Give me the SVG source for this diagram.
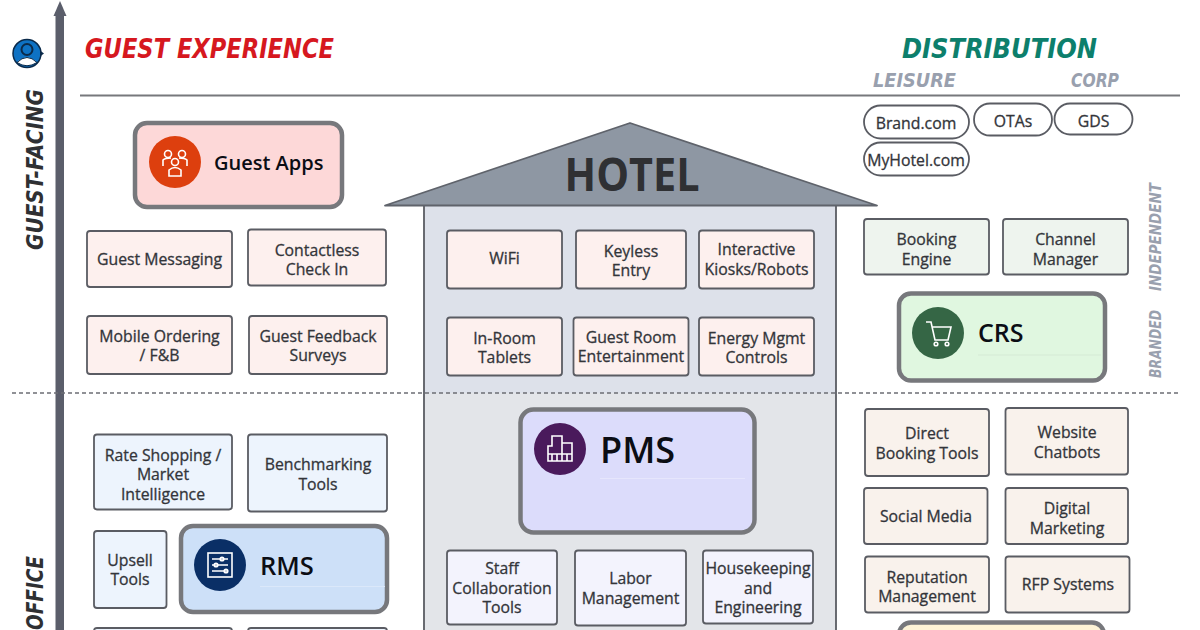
<svg xmlns="http://www.w3.org/2000/svg" width="1200" height="630" viewBox="0 0 1200 630">
<defs><style>
text{font-family:"Open Sans","Noto Sans","Liberation Sans",sans-serif}
.b{stroke:#5a5c63;stroke-width:1.8}
.t{font-size:15.800px;fill:#33353a;stroke:#33353a;stroke-width:.3;text-anchor:middle;font-weight:500}
.big{stroke:#77787c;stroke-width:4.500}
.bt{font-weight:600;fill:#0b0d14}
.hand{font-family:"DejaVu Sans",sans-serif;font-weight:700;font-style:oblique}
.pill{fill:#fff;stroke:#5a5c63;stroke-width:1.800}
.ic{fill:none;stroke:#fff;stroke-width:1.600}
</style></defs>
<rect width="1200" height="630" fill="#fff"/>
<g id="axes">
<path d="M80 95.500H1180" stroke="#77787c" stroke-width="1.800"/>
<rect x="55.500" y="12" width="8.500" height="618" fill="#5b5e6b"/>
<path d="M60 1L66.500 16H53.500Z" fill="#5b5e6b"/>
</g>
<g id="house">
<rect x="424" y="205" width="412" height="188" fill="#dde1ea"/>
<rect x="424" y="393" width="412" height="240" fill="#e3e5e9"/>
<path d="M424 205V630M836 205V630" stroke="#5a5c63" stroke-width="1.800" fill="none"/>
<path d="M385 205.500L630 123L877 205.500Z" fill="#8e97a3" stroke="#5f636b" stroke-width="1.800" stroke-linejoin="round"/>
<text x="632" y="191" font-family="DejaVu Sans" font-weight="700" font-size="46" fill="#2f3033" text-anchor="middle" textLength="135" lengthAdjust="spacingAndGlyphs">HOTEL</text>
</g>
<path id="divider" d="M12 393H1180" stroke="#6c6e74" stroke-width="1.300" stroke-dasharray="4 3" fill="none"/>
<g id="labels">
<text class="hand" x="85" y="58" font-size="26.500" fill="#d6181f" textLength="249" lengthAdjust="spacingAndGlyphs">GUEST EXPERIENCE</text>
<text class="hand" x="902" y="58" font-size="26.500" fill="#0d7f6c" textLength="195" lengthAdjust="spacingAndGlyphs">DISTRIBUTION</text>
<text class="hand" x="873" y="87" font-size="20" fill="#99a0ae" textLength="83" lengthAdjust="spacingAndGlyphs">LEISURE</text>
<text class="hand" x="1071" y="87" font-size="20" fill="#99a0ae" textLength="48" lengthAdjust="spacingAndGlyphs">CORP</text>
<text class="hand" transform="translate(43 250) rotate(-90)" font-size="23.500" fill="#2f3033" textLength="161" lengthAdjust="spacingAndGlyphs">GUEST-FACING</text>
<text class="hand" transform="translate(43 630) rotate(-90)" font-size="23.500" fill="#2f3033" textLength="74" lengthAdjust="spacingAndGlyphs">OFFICE</text>
<text class="hand" transform="translate(1161 291) rotate(-90)" font-size="16" fill="#99a0ae" textLength="108" lengthAdjust="spacingAndGlyphs">INDEPENDENT</text>
<text class="hand" transform="translate(1161 378) rotate(-90)" font-size="16" fill="#99a0ae" textLength="68" lengthAdjust="spacingAndGlyphs">BRANDED</text>
</g>
<g id="guest-icon">
<circle cx="27" cy="53.500" r="14" fill="#0e72c4" stroke="#0b2a4a" stroke-width="1.500"/>
<circle cx="27" cy="49.500" r="5.500" fill="none" stroke="#0b2a4a" stroke-width="2"/>
<path d="M17 62.500Q27 52.500 37 62.500Q27 69 17 62.500Z" fill="#fff" stroke="#0b2a4a" stroke-width="1"/>
<path d="M40 50.500L44 53.500L40 56.500Z" fill="#0b2a4a"/>
</g>
<g id="guest-apps">
<rect class="big" x="135" y="123" width="207" height="84" rx="12" fill="#fdd8d8"/>
<circle cx="175" cy="162" r="26" fill="#dd3f0e"/>
<g class="ic"><circle cx="168" cy="154" r="3.500"/><circle cx="182" cy="154" r="3.500"/><circle cx="175" cy="162" r="3.500"/><path d="M163 166V160Q165 158 171 158M187 166V160Q185 158 179 158M169 176V170Q175 165 181 170V176Z"/></g>
<text class="bt" x="214" y="170" font-size="20">Guest Apps</text>
</g>
<g id="n-guest-messaging"><rect class="b" x="87" y="231" width="145" height="56" rx="3" fill="#fdf0ee"/><text class="t" x="159.500" y="265">Guest Messaging</text></g>
<g id="n-contactless"><rect class="b" x="248" y="229.500" width="138" height="56" rx="3" fill="#fdf0ee"/><text class="t" x="317" y="256">Contactless</text><text class="t" x="317" y="275">Check In</text></g>
<g id="n-mobile"><rect class="b" x="87" y="316" width="145" height="58" rx="3" fill="#fdf0ee"/><text class="t" x="159.500" y="342">Mobile Ordering</text><text class="t" x="159.500" y="361">/ F&amp;B</text></g>
<g id="n-feedback"><rect class="b" x="249" y="316" width="138" height="58" rx="3" fill="#fdf0ee"/><text class="t" x="318" y="342">Guest Feedback</text><text class="t" x="318" y="361">Surveys</text></g>
<g id="n-rate"><rect class="b" x="94" y="434.500" width="138" height="75" rx="3" fill="#edf4fd"/><text class="t" x="163" y="460.500">Rate Shopping /</text><text class="t" x="163" y="480">Market</text><text class="t" x="163" y="499.500">Intelligence</text></g>
<g id="n-bench"><rect class="b" x="248" y="434.500" width="139" height="77" rx="3" fill="#edf4fd"/><text class="t" x="318" y="470">Benchmarking</text><text class="t" x="318" y="489.500">Tools</text></g>
<g id="n-upsell"><rect class="b" x="94" y="531" width="72.500" height="77" rx="3" fill="#edf4fd"/><text class="t" x="130" y="566">Upsell</text><text class="t" x="130" y="585">Tools</text></g>
<g id="rms">
<rect class="big" x="181" y="526" width="206" height="86" rx="12" fill="#cde0f8"/>
<path d="M260 586.500H385" stroke="#dbe8fa" stroke-width="1"/>
<circle cx="220" cy="565" r="26" fill="#0a2f66"/>
<g class="ic"><rect x="208" y="553" width="24" height="24"/><path d="M212 559H228M212 565H228M212 571H228"/><circle cx="222" cy="559" r="1.800"/><circle cx="216" cy="565" r="1.800"/><circle cx="226" cy="571" r="1.800"/></g>
<text class="bt" x="260" y="575" font-size="25.500">RMS</text>
</g>
<g id="n-bl"><rect class="b" x="94" y="628" width="138" height="10" rx="3" fill="#edf4fd"/></g>
<g id="n-br"><rect class="b" x="248" y="628" width="139" height="10" rx="3" fill="#edf4fd"/></g>
<g id="n-wifi"><rect class="b" x="447" y="230.500" width="115" height="58" rx="3" fill="#fdf0ee"/><text class="t" x="504.500" y="264">WiFi</text></g>
<g id="n-keyless"><rect class="b" x="576" y="230.500" width="110" height="58" rx="3" fill="#fdf0ee"/><text class="t" x="631" y="256.500">Keyless</text><text class="t" x="631" y="276">Entry</text></g>
<g id="n-kiosk"><rect class="b" x="699" y="230.500" width="115" height="58" rx="3" fill="#fdf0ee"/><text class="t" x="756.500" y="255">Interactive</text><text class="t" x="756.500" y="274.500">Kiosks/Robots</text></g>
<g id="n-tablet"><rect class="b" x="447" y="317.500" width="115" height="58" rx="3" fill="#fdf0ee"/><text class="t" x="504.500" y="343.500">In-Room</text><text class="t" x="504.500" y="363">Tablets</text></g>
<g id="n-ent"><rect class="b" x="573.500" y="317.500" width="115" height="58" rx="3" fill="#fdf0ee"/><text class="t" x="631" y="342.500">Guest Room</text><text class="t" x="631" y="362">Entertainment</text></g>
<g id="n-energy"><rect class="b" x="699" y="317.500" width="115" height="58" rx="3" fill="#fdf0ee"/><text class="t" x="756.500" y="343.500">Energy Mgmt</text><text class="t" x="756.500" y="363">Controls</text></g>
<g id="pms">
<rect class="big" x="520.500" y="409.500" width="234" height="123" rx="13" fill="#dcdcfb"/>
<path d="M600 478.500H745" stroke="#e6e6fc" stroke-width="1"/>
<circle cx="560" cy="449" r="26" fill="#4a1a5c"/>
<g class="ic"><path d="M548 461V446H552V436H562V443H572V461ZM548 454H572M552 454V461M557 454V461M562 454V461M567 454V461M562 443V454"/></g>
<text class="bt" x="600" y="463" font-size="36">PMS</text>
</g>
<g id="n-staff"><rect class="b" x="447" y="550.500" width="110" height="74" rx="3" fill="#f3f3fd"/><text class="t" x="502" y="574">Staff</text><text class="t" x="502" y="593.500">Collaboration</text><text class="t" x="502" y="613">Tools</text></g>
<g id="n-labor"><rect class="b" x="575" y="550.500" width="111" height="75" rx="3" fill="#f3f3fd"/><text class="t" x="630.500" y="584">Labor</text><text class="t" x="630.500" y="603.500">Management</text></g>
<g id="n-hk"><rect class="b" x="703" y="550.500" width="110" height="73" rx="3" fill="#f3f3fd"/><text class="t" x="758" y="574">Housekeeping</text><text class="t" x="758" y="593.500">and</text><text class="t" x="758" y="613">Engineering</text></g>
<g id="p-brand"><rect class="pill" x="864" y="105.500" width="105" height="33" rx="16.500"/><text class="t" x="916" y="129">Brand.com</text></g>
<g id="p-otas"><rect class="pill" x="974" y="103.500" width="78" height="32" rx="16"/><text class="t" x="1013" y="127">OTAs</text></g>
<g id="p-gds"><rect class="pill" x="1054.500" y="103.500" width="78" height="31" rx="15.500"/><text class="t" x="1093.500" y="127">GDS</text></g>
<g id="p-myhotel"><rect class="pill" x="864" y="142.500" width="105" height="33" rx="16.500"/><text class="t" x="916" y="166">MyHotel.com</text></g>
<g id="n-booking"><rect class="b" x="864" y="219" width="125" height="55.500" rx="3" fill="#eef4ee"/><text class="t" x="926.500" y="245">Booking</text><text class="t" x="926.500" y="264.500">Engine</text></g>
<g id="n-channel"><rect class="b" x="1003" y="219" width="125" height="55.500" rx="3" fill="#eef4ee"/><text class="t" x="1065.500" y="245">Channel</text><text class="t" x="1065.500" y="264.500">Manager</text></g>
<g id="crs">
<rect class="big" x="899" y="293.500" width="206" height="87" rx="12" fill="#e0f7e0"/>
<path d="M978 355H1101" stroke="#d5ead5" stroke-width="1"/>
<circle cx="938" cy="333" r="26" fill="#356645"/>
<g class="ic"><path d="M926 322H931L935 340H948L951 327H932"/><circle cx="936" cy="344" r="1.800"/><circle cx="947" cy="344" r="1.800"/></g>
<text class="bt" x="978" y="342" font-size="25">CRS</text>
</g>
<g id="n-direct"><rect class="b" x="865" y="409" width="124" height="67" rx="3" fill="#f9f2ec"/><text class="t" x="927" y="439">Direct</text><text class="t" x="927" y="458.500">Booking Tools</text></g>
<g id="n-chatbot"><rect class="b" x="1005.500" y="408" width="122.500" height="66.500" rx="3" fill="#f9f2ec"/><text class="t" x="1067" y="438">Website</text><text class="t" x="1067" y="457.500">Chatbots</text></g>
<g id="n-social"><rect class="b" x="864" y="488" width="123.500" height="56" rx="3" fill="#f9f2ec"/><text class="t" x="926" y="521.500">Social Media</text></g>
<g id="n-digital"><rect class="b" x="1005.500" y="488" width="122.500" height="56" rx="3" fill="#f9f2ec"/><text class="t" x="1067" y="514">Digital</text><text class="t" x="1067" y="533.500">Marketing</text></g>
<g id="n-rep"><rect class="b" x="865" y="556.500" width="124" height="56" rx="3" fill="#f9f2ec"/><text class="t" x="927" y="582.500">Reputation</text><text class="t" x="927" y="602">Management</text></g>
<g id="n-rfp"><rect class="b" x="1005.500" y="556.500" width="124" height="56" rx="3" fill="#f9f2ec"/><text class="t" x="1068" y="590">RFP Systems</text></g>
<g id="gold"><rect class="big" x="899" y="622.500" width="205" height="40" rx="12" fill="#fdf3d6"/></g>
</svg>
